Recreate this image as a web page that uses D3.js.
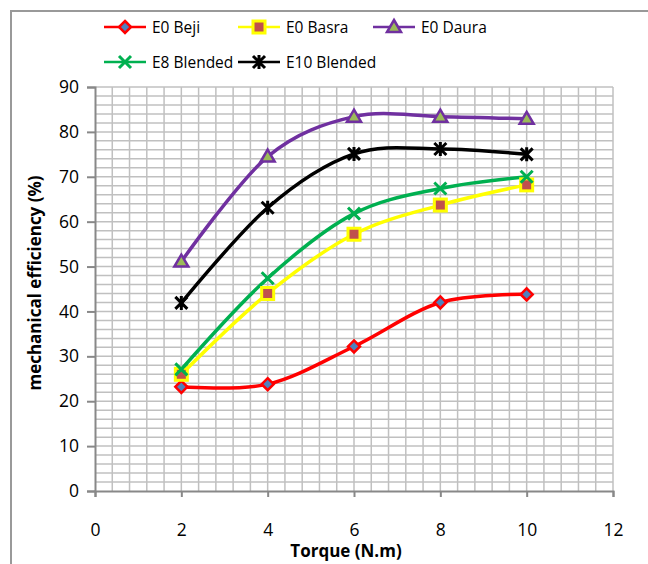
<!DOCTYPE html>
<html><head><meta charset="utf-8">
<script src="https://cdn.jsdelivr.net/npm/d3@7"></script>
<style>body{margin:0;background:#fff}svg{display:block}text{font-family:"Open Sans",sans-serif}</style>
</head><body>
<svg id="c" width="648" height="564"></svg>
<script>
const torque = [2, 4, 6, 8, 10];
const e0Beji = [23.2, 23.8, 32.2, 42.0, 43.8];
const e0Basra = [26.0, 44.0, 57.2, 63.7, 68.2];
const e0Daura = [51.1, 74.5, 83.4, 83.4, 82.9];
const e8Blended = [27.1, 47.4, 61.8, 67.4, 70.0];
const e10Blended = [41.9, 63.1, 75.1, 76.2, 75.0];
const seriesNames = ["E0 Beji", "E0 Basra", "E0 Daura", "E8 Blended", "E10 Blended"];
const xTicks = [0, 2, 4, 6, 8, 10, 12];
const yTicks = [0, 10, 20, 30, 40, 50, 60, 70, 80, 90];

const styles = [
  {color: "#ff0000", marker: "diamond", fill: "#4f81bd"},
  {color: "#ffff00", marker: "square", fill: "#c0504d"},
  {color: "#7030a0", marker: "triangle", fill: "#9bbb59"},
  {color: "#00b050", marker: "x", fill: "none"},
  {color: "#000000", marker: "star", fill: "none"}
];
const seriesVals = [e0Beji, e0Basra, e0Daura, e8Blended, e10Blended];

const svg = d3.select("#c");
svg.append("rect").attr("x", 11).attr("y", 11).attr("width", 700).attr("height", 700)
  .attr("fill", "#fff").attr("stroke", "#999").attr("stroke-width", 2);

const x = d3.scaleLinear().domain([0, 12]).range([95, 613]);
const y = d3.scaleLinear().domain([0, 90]).range([491, 87]);

// grid
const g = svg.append("g");
const xMinor = d3.range(0, 12.0001, 0.4);
const yMinor = d3.range(0, 90.0001, 2);
g.selectAll(".vg").data(xMinor.slice(1)).enter().append("line")
  .attr("x1", d => x(d)).attr("x2", d => x(d)).attr("y1", y(90)).attr("y2", y(0))
  .attr("stroke", "#c0c0c0").attr("stroke-width", 1.5);
g.selectAll(".hg").data(yMinor.slice(1)).enter().append("line")
  .attr("x1", x(0)).attr("x2", x(12)).attr("y1", d => y(d)).attr("y2", d => y(d))
  .attr("stroke", "#c0c0c0").attr("stroke-width", 1.5);

// axes
const yAxis = svg.append("g").attr("transform", `translate(${x(0)},0)`)
  .call(d3.axisLeft(y).tickValues(yTicks).tickSize(8).tickPadding(8));
const xAxis = svg.append("g").attr("transform", `translate(0,${y(0)})`)
  .call(d3.axisBottom(x).tickValues(xTicks).tickSize(6).tickPadding(27));
[xAxis, yAxis].forEach(a => {
  a.select(".domain").attr("stroke", "#888").attr("stroke-width", 2);
  a.selectAll(".tick line").attr("stroke", "#888").attr("stroke-width", 2);
  a.selectAll("text").attr("font-size", 17.5).attr("fill", "#000");
});

// axis titles
svg.append("text").attr("x", 346).attr("y", 557).attr("text-anchor", "middle")
  .attr("font-size", 17).attr("font-weight", "bold").text("Torque (N.m)");
svg.append("text").attr("transform", "translate(41,283) rotate(-90)").attr("text-anchor", "middle")
  .attr("font-size", 17).attr("font-weight", "bold").text("mechanical efficiency (%)");

// markers
function drawMarker(sel, type, color, fill, cx, cy) {
  const m = sel.append("g").attr("transform", `translate(${cx},${cy})`);
  if (type === "diamond") {
    m.append("path").attr("d", "M0,-6L6,0L0,6L-6,0Z").attr("fill", fill).attr("stroke", color).attr("stroke-width", 2.5);
  } else if (type === "square") {
    m.append("rect").attr("x", -6).attr("y", -6).attr("width", 12).attr("height", 12)
      .attr("fill", fill).attr("stroke", color).attr("stroke-width", 3);
  } else if (type === "triangle") {
    m.append("path").attr("d", "M0,-7L7,5L-7,5Z").attr("fill", fill).attr("stroke", color).attr("stroke-width", 2.5);
  } else if (type === "x") {
    m.append("path").attr("d", "M-6,-6L6,6M-6,6L6,-6").attr("stroke", color).attr("stroke-width", 3);
  } else if (type === "star") {
    m.append("path").attr("d", "M-6,-6L6,6M-6,6L6,-6M0,-7L0,7").attr("stroke", color).attr("stroke-width", 3);
  }
}

const line = d3.line().x(d => x(d[0])).y(d => y(d[1])).curve(d3.curveCardinal.tension(0));
seriesVals.forEach((vals, i) => {
  const pts = torque.map((t, j) => [t, vals[j]]);
  svg.append("path").attr("d", line(pts)).attr("fill", "none")
    .attr("stroke", styles[i].color).attr("stroke-width", 3.5);
});
seriesVals.forEach((vals, i) => {
  torque.forEach((t, j) => drawMarker(svg, styles[i].marker, styles[i].color, styles[i].fill, x(t), y(vals[j])));
});

// legend
const legPos = [[104, 27], [238, 27], [373, 27], [104, 62], [238, 62]];
seriesNames.forEach((n, i) => {
  const [lx, ly] = legPos[i];
  svg.append("line").attr("x1", lx).attr("x2", lx + 42).attr("y1", ly).attr("y2", ly)
    .attr("stroke", styles[i].color).attr("stroke-width", 2.5);
  drawMarker(svg, styles[i].marker, styles[i].color, styles[i].fill, lx + 21, ly);
  svg.append("text").attr("x", lx + 48).attr("y", ly + 5.5).attr("font-size", 15.5).text(n);
});
</script>
</body></html>
